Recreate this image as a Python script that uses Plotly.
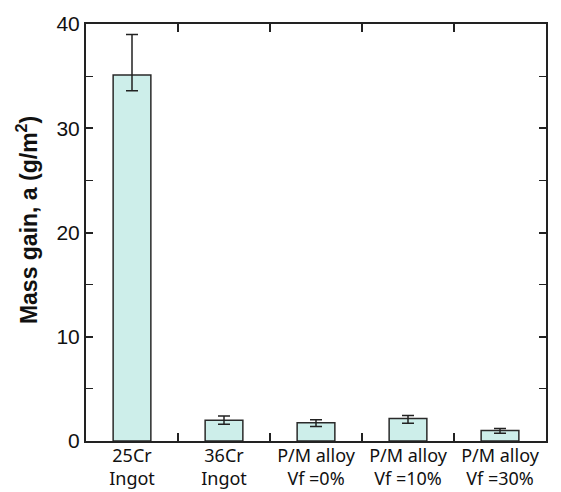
import plotly.graph_objects as go

categories = ["25Cr<br>Ingot", "36Cr<br>Ingot", "P/M alloy<br>Vf =0%", "P/M alloy<br>Vf =10%", "P/M alloy<br>Vf =30%"]
mass_gain = [35.1, 2.0, 1.75, 2.15, 1.0]
err_plus = [3.9, 0.4, 0.3, 0.3, 0.2]
err_minus = [1.5, 0.4, 0.35, 0.45, 0.25]
y_ticks = [0, 10, 20, 30, 40]
boundaries = [0.5, 1.5, 2.5, 3.5]
y_title = "<b>Mass gain, a (g/m<sup>2</sup>)</b>"

fig = go.Figure()
fig.add_trace(go.Bar(
    x=list(range(len(categories))), y=mass_gain,
    marker=dict(color="#cdeeea", line=dict(color="#2a2a2a", width=1.5)),
    width=0.41,
    error_y=dict(type="data", symmetric=False, array=err_plus, arrayminus=err_minus,
                 color="#222222", thickness=1.5, width=6),
))
fig.add_trace(go.Scatter(x=[-0.5, 4.5], y=[0, 0], xaxis="x2", mode="markers",
                         marker=dict(opacity=0), hoverinfo="skip", showlegend=False))

fig.update_layout(
    width=553, height=484,
    margin=dict(l=78, r=15, t=16, b=51, autoexpand=False),
    plot_bgcolor="white", paper_bgcolor="white",
    showlegend=False,
    font=dict(family="Liberation Sans Narrow, Liberation Sans, Arial", color="#111111"),
    xaxis=dict(
        range=[-0.5, 4.5], tickvals=list(range(len(categories))), ticktext=categories,
        ticks="", showline=True, linecolor="#222222", linewidth=2, mirror=True,
        tickfont=dict(size=18, family="Noto Sans, DejaVu Sans"),
        ticklabelstandoff=-3,
        showgrid=False, automargin=False, zeroline=False,
    ),
    xaxis2=dict(
        range=[-0.5, 4.5], overlaying="x", side="bottom", tickvals=boundaries,
        showticklabels=False, ticks="inside", ticklen=8, tickwidth=1.5, tickcolor="#222222",
        mirror="ticks", showline=False, showgrid=False, zeroline=False, automargin=False,
    ),
    yaxis=dict(
        range=[0, 40], tickvals=y_ticks, ticktext=[str(v) for v in y_ticks],
        showline=True, linecolor="#222222", linewidth=2, mirror="allticks",
        ticks="inside", ticklen=7, tickwidth=1.5, tickcolor="#222222",
        minor=dict(dtick=5, ticks="inside", ticklen=4, tickwidth=1.2, tickcolor="#222222"),
        tickfont=dict(size=21),
        showgrid=False, zeroline=False, automargin=False,
    ),
    annotations=[dict(
        text=y_title, textangle=-90, xref="paper", yref="paper",
        x=-0.128, y=0.53, xanchor="center", yanchor="middle", showarrow=False,
        font=dict(size=23, family="Liberation Sans Narrow, Liberation Sans, Arial"),
    )],
)

fig.write_html("out.html")
